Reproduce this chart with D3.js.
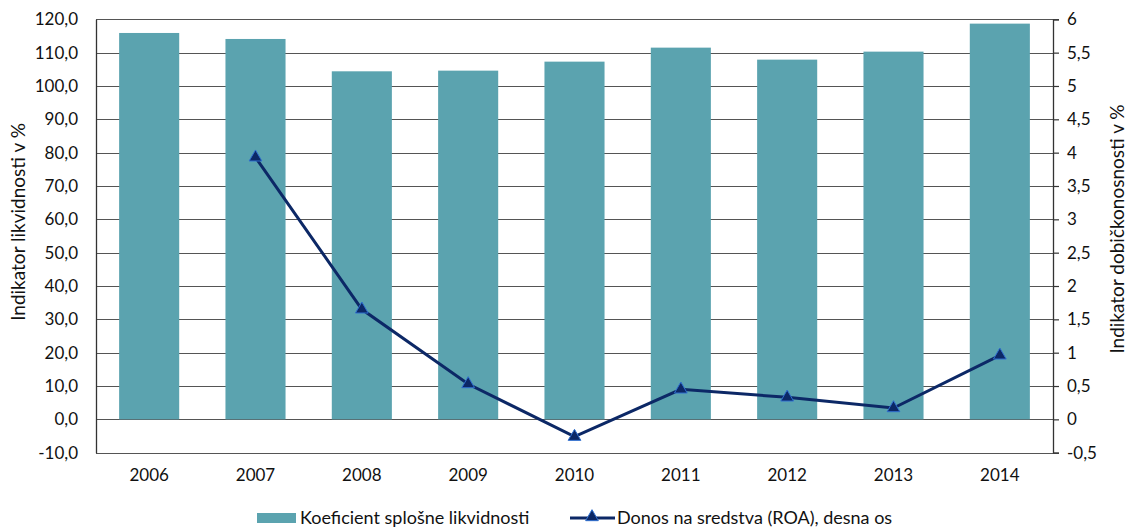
<!DOCTYPE html>
<html>
<head>
<meta charset="utf-8">
<script src="https://cdn.jsdelivr.net/npm/d3@7"></script>
<style>
  html, body { margin: 0; padding: 0; background: #fff; }
  svg text { font-family: Lato, "Noto Sans", sans-serif; fill: #111; }
</style>
</head>
<body>
<svg id="chart" width="1130" height="528"></svg>
<script>
// Years on the category axis
const years = ["2006", "2007", "2008", "2009", "2010", "2011", "2012", "2013", "2014"];
// General liquidity coefficient (left axis, %)
const liquidity = [115.9, 114.1, 104.4, 104.6, 107.3, 111.5, 107.9, 110.3, 118.7];
// Return on assets (right axis, %); no value for 2006
const roa = [null, 3.93, 1.65, 0.53, -0.26, 0.45, 0.33, 0.17, 0.96];
// Axis ticks
const leftTicks = [-10, 0, 10, 20, 30, 40, 50, 60, 70, 80, 90, 100, 110, 120];
const rightTicks = [-0.5, 0, 0.5, 1, 1.5, 2, 2.5, 3, 3.5, 4, 4.5, 5, 5.5, 6];

const svg = d3.select("#chart");
const m = { left: 96, right: 1053, top: 19.3, bottom: 452.7 };
const FONT = "Lato, 'Noto Sans', sans-serif";

const x = d3.scaleBand().domain(years).range([m.left, m.right]).paddingInner(0.435).paddingOuter(0.2175);
const yL = d3.scaleLinear().domain([-10, 120]).range([m.bottom, m.top]);
const yR = d3.scaleLinear().domain([-0.5, 6]).range([m.bottom, m.top]);

const fmtL = v => d3.format(".1f")(v).replace(".", ",").replace("−", "-");
const fmtR = v => String(v).replace(".", ",");

// Horizontal gridlines
svg.append("g")
  .selectAll("line")
  .data(leftTicks)
  .join("line")
  .attr("x1", m.left).attr("x2", m.right)
  .attr("y1", d => Math.round(yL(d)) + 0.5).attr("y2", d => Math.round(yL(d)) + 0.5)
  .attr("stroke", "#555").attr("stroke-width", 1.2);

// Bars
svg.append("g")
  .selectAll("rect")
  .data(years.map((y, i) => ({ y, v: liquidity[i] })))
  .join("rect")
  .attr("x", d => x(d.y))
  .attr("width", x.bandwidth())
  .attr("y", d => yL(d.v))
  .attr("height", d => yL(0) - yL(d.v))
  .attr("fill", "#5BA3AF");

// Left axis
const axL = d3.axisLeft(yL).tickValues(leftTicks).tickFormat(fmtL).tickSize(0).tickPadding(18);
const gL = svg.append("g").attr("transform", `translate(${m.left},0)`).call(axL);
gL.select(".domain").attr("stroke", "#333").attr("stroke-width", 1.3);
gL.selectAll("text").attr("font-size", 17).style("font-family", FONT).attr("fill", "#111");

// Right axis
const axR = d3.axisRight(yR).tickValues(rightTicks).tickFormat(fmtR).tickSize(6).tickPadding(8);
const gR = svg.append("g").attr("transform", `translate(${m.right},0)`).call(axR);
gR.select(".domain").attr("stroke", "#333").attr("stroke-width", 1.3);
gR.selectAll(".tick line").attr("stroke", "#333").attr("stroke-width", 1.2);
gR.selectAll("text").attr("font-size", 17).style("font-family", FONT).attr("fill", "#111");

// Category labels
const axX = d3.axisBottom(x).tickSize(0).tickPadding(16);
const gX = svg.append("g").attr("transform", `translate(0,${m.bottom})`).call(axX);
gX.select(".domain").remove();
gX.selectAll("text").attr("font-size", 17).style("font-family", FONT).attr("fill", "#111");

// ROA line
const pts = years.map((y, i) => ({ y, v: roa[i] })).filter(d => d.v !== null);
const line = d3.line().x(d => x(d.y) + x.bandwidth() / 2).y(d => yR(d.v));
svg.append("path")
  .datum(pts)
  .attr("d", line)
  .attr("fill", "none")
  .attr("stroke", "#0C2866")
  .attr("stroke-width", 3);

const tri = d3.symbol().type(d3.symbolTriangle).size(70);
svg.append("g")
  .selectAll("path")
  .data(pts)
  .join("path")
  .attr("transform", d => `translate(${x(d.y) + x.bandwidth() / 2},${yR(d.v)})`)
  .attr("d", tri)
  .attr("fill", "#0C2866")
  .attr("stroke", "#2F6FD0")
  .attr("stroke-width", 1);

// Axis titles
svg.append("text")
  .attr("transform", "translate(25,222) rotate(-90)")
  .attr("text-anchor", "middle")
  .attr("font-size", 19)
  .text("Indikator likvidnosti v %");
svg.append("text")
  .attr("transform", "translate(1124,229) rotate(-90)")
  .attr("text-anchor", "middle")
  .attr("font-size", 19)
  .text("Indikator dobičkonosnosti v %");

// Legend
const lg = svg.append("g");
lg.append("rect").attr("x", 257).attr("y", 513).attr("width", 39).attr("height", 10).attr("fill", "#5BA3AF");
lg.append("text").attr("x", 300).attr("y", 524).attr("font-size", 18).text("Koeficient splošne likvidnosti");
lg.append("line").attr("x1", 570).attr("x2", 615).attr("y1", 518).attr("y2", 518).attr("stroke", "#0C2866").attr("stroke-width", 3);
lg.append("path").attr("transform", "translate(592,517)").attr("d", tri).attr("fill", "#0C2866").attr("stroke", "#2F6FD0").attr("stroke-width", 1);
lg.append("text").attr("x", 617).attr("y", 524).attr("font-size", 18).text("Donos na sredstva (ROA), desna os");
</script>
</body>
</html>
